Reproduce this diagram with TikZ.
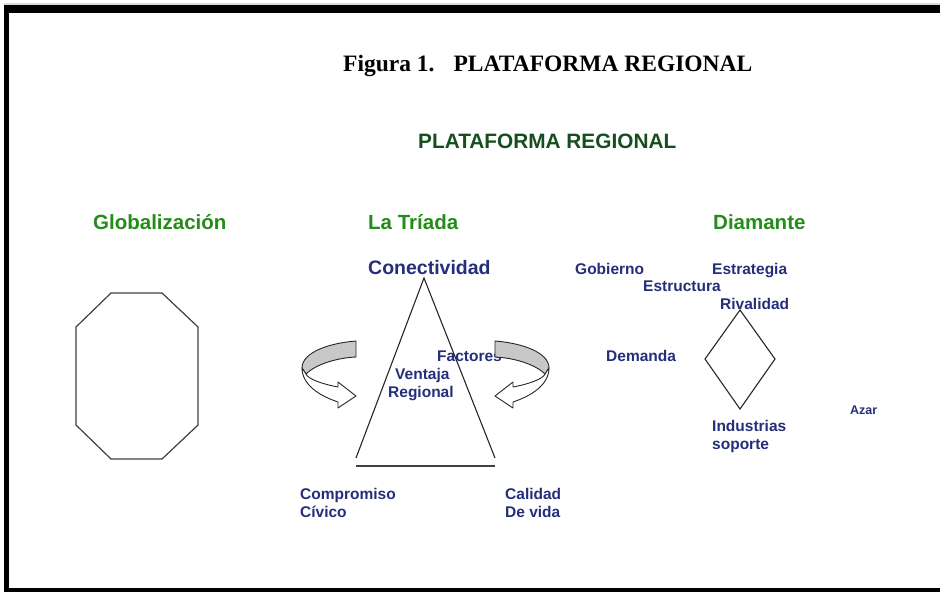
\documentclass[tikz,border=0pt]{standalone}
\usepackage{fontspec}
\setmainfont{Liberation Sans}
\newfontfamily\titleserif{Liberation Serif}
\definecolor{lblue}{RGB}{36,46,122}
\definecolor{lgreen}{RGB}{36,140,24}
\definecolor{dgreen}{RGB}{22,78,30}
\definecolor{bandgray}{RGB}{200,200,200}
\tikzset{
  blab/.style={anchor=base west, inner sep=0pt, text=lblue, font=\fontsize{15.5}{17}\selectfont\bfseries},
  glab/.style={anchor=base west, inner sep=0pt, text=lgreen, font=\fontsize{20.5}{23}\selectfont\bfseries},
  shapeline/.style={draw=black!85, line width=1.2pt, line join=miter},
  curvarrow/.style={draw=black!85, line width=0.9pt, line join=round}
}
\begin{document}
\begin{tikzpicture}[x=1pt,y=-1pt]
\useasboundingbox (0,0) rectangle (940,592);
% frame
\fill[black!15] (4,3) rectangle (940,4.5);
\fill[black] (4,5) rectangle (940,13);
\fill[black] (4,5) rectangle (9,592);
\fill[black] (4,588) rectangle (940,592);

% titles
\node[anchor=base west, inner sep=0pt, font=\titleserif\fontsize{23.5}{26}\selectfont\bfseries] (fig) at (343,71) {Figura 1.\hspace{19pt}PLATAFORMA REGIONAL};
\node[anchor=base west, inner sep=0pt, text=dgreen, font=\fontsize{20.8}{23}\selectfont\bfseries] (plat) at (418,148) {PLATAFORMA REGIONAL};

\node[glab] (glob) at (93,229) {Globalización};
\node[glab] (triada) at (368,229) {La Tríada};
\node[glab] (diam) at (713,229) {Diamante};

% blue labels
\node[blab, font=\fontsize{19.5}{21}\selectfont\bfseries] (conec) at (368,274) {Conectividad};
\node[blab] (gob) at (575,274) {Gobierno};
\node[blab] (estr) at (712,274) {Estrategia};
\node[blab] (estc) at (643,291) {Estructura};
\node[blab] (riv) at (720,309) {Rivalidad};
\node[blab] (dem) at (606,361) {Demanda};
\node[blab] (ind) at (712,431) {Industrias};
\node[blab] (sop) at (712,449) {soporte};
\node[blab, font=\fontsize{12.5}{14}\selectfont\bfseries] (azar) at (850,414) {Azar};
\node[blab] (fac) at (437,361) {Factores};
\node[blab] (ven) at (395,379) {Ventaja};
\node[blab] (reg) at (388,397) {Regional};
\node[blab] (comp) at (300,499) {Compromiso};
\node[blab] (civ) at (300,517) {Cívico};
\node[blab] (cal) at (505,499) {Calidad};
\node[blab] (dev) at (505,517) {De vida};

% octagon
\draw[shapeline, draw=black!75] (111,293) -- (162,293) -- (198,327) -- (198,425) -- (162,459) -- (111,459) -- (76,425) -- (76,327) -- cycle;

% triangle
\draw[shapeline, line width=1.1pt] (356,458) -- (424,278) -- (495,458);
\draw[draw=black!75, line width=2pt] (356,466) -- (495,466);

% diamond
\draw[shapeline, line width=1.1pt] (740,310) -- (775,359) -- (740,409) -- (705,359) -- cycle;

% left curved arrow
\draw[curvarrow, fill=bandgray] (356,341) .. controls (330,343) and (302,352) .. (302,368) -- (306,374) .. controls (315,365) and (335,358) .. (356,357) -- cycle;
\draw[curvarrow, fill=white] (302,368) .. controls (302,385) and (320,396) .. (338,402) -- (338,408) -- (356,396) -- (338,382) -- (338,387) .. controls (322,384) and (308,379) .. (306,374) -- cycle;

% right curved arrow (mirror)
\begin{scope}[xshift=851pt, xscale=-1]
\draw[curvarrow, fill=bandgray] (356,341) .. controls (330,343) and (302,352) .. (302,368) -- (306,374) .. controls (315,365) and (335,358) .. (356,357) -- cycle;
\draw[curvarrow, fill=white] (302,368) .. controls (302,385) and (320,396) .. (338,402) -- (338,408) -- (356,396) -- (338,382) -- (338,387) .. controls (322,384) and (308,379) .. (306,374) -- cycle;
\end{scope}
\end{tikzpicture}
\end{document}
